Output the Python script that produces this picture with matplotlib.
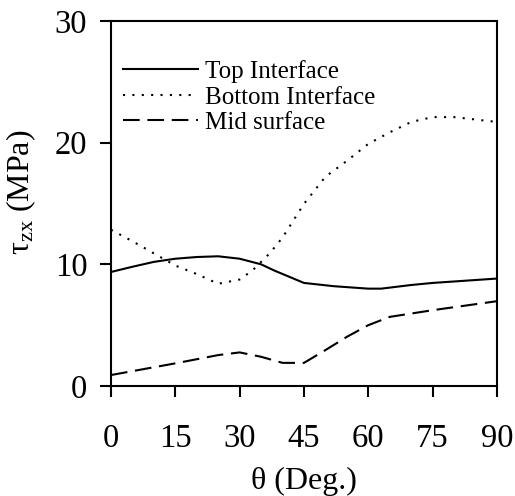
import matplotlib
matplotlib.use("Agg")
import matplotlib.pyplot as plt

plt.rcParams['font.family'] = ['Liberation Serif', 'DejaVu Serif']
plt.rcParams['mathtext.default'] = 'regular'

# angle (deg) and shear stress (MPa)
theta_top = [0, 5, 10, 15, 20, 25, 30, 35, 38, 45, 52, 60, 63, 70, 75, 90]
top = [9.37, 9.8, 10.2, 10.46, 10.6, 10.66, 10.46, 10.0, 9.5, 8.47, 8.2, 8.0, 8.0, 8.3, 8.47, 8.83]

theta_bot = [0, 5, 10, 15, 20, 25, 30, 33, 37, 40, 45, 50, 55, 60, 65, 70, 75, 80, 85, 90]
bottom = [12.84, 11.9, 10.9, 9.9, 9.2, 8.4, 8.75, 9.5, 10.9, 12.2, 14.97, 17.2, 18.5,
          19.9, 20.85, 21.7, 22.1, 22.1, 21.9, 21.7]

theta_mid = [0, 15, 25, 30, 35, 40, 45, 50, 55, 60, 65, 75, 90]
mid = [0.9, 1.86, 2.54, 2.76, 2.4, 1.9, 1.9, 2.95, 4.04, 5.0, 5.68, 6.23, 6.97]

fig = plt.figure(figsize=(5.15, 4.96), dpi=100)
ax = fig.add_axes([0.2155, 0.2218, 0.7495, 0.7359])

lw = 1.5
ax.plot(theta_top, top, '-', color='black', lw=lw, label='Top Interface')
ax.plot(theta_bot, bottom, color='black', lw=lw, linestyle=(0, (1, 3.5)),
        label='Bottom Interface')
ax.plot(theta_mid, mid, color='black', lw=lw, linestyle=(0, (8, 3.7)),
        label='Mid surface')

ax.set_xlim(0, 90)
ax.set_ylim(0, 30)
ax.set_xticks(range(0, 91, 15))
ax.set_yticks([0, 10, 20, 30])
for s in ax.spines.values():
    s.set_linewidth(1.5)
ax.tick_params(direction='out', length=8, width=1.5, labelsize=23.5)
ax.tick_params(axis='x', pad=19)
ax.tick_params(axis='y', pad=9)

ax.set_xlabel('θ (Deg.)', fontsize=23, labelpad=9)
ax.set_ylabel(r'τ$_{zx}$ (MPa)', fontsize=23)
ax.yaxis.set_label_coords(-0.19, 0.53)

ax.legend(loc='upper left', bbox_to_anchor=(0.031, 0.893), frameon=False,
          fontsize=18, handlelength=3.0, handletextpad=0.28, labelspacing=0.12,
          borderpad=0, borderaxespad=0)

fig.savefig('out.png', dpi=100)
